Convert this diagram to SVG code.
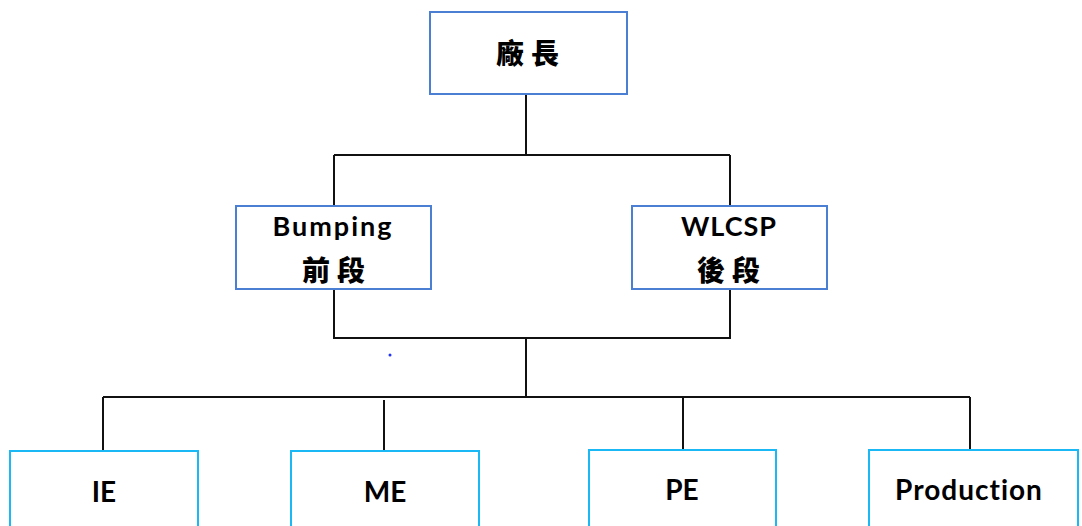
<svg xmlns="http://www.w3.org/2000/svg" width="1082" height="526" viewBox="0 0 1082 526">
<style>
.top{fill:#fff;stroke:#4a7fd4;stroke-width:2}
.bot{fill:#fff;stroke:#1ab8f5;stroke-width:2}
.c{fill:none;stroke:#111;stroke-width:2}
.t{font-family:Lato,"Liberation Sans","Noto Sans CJK TC",sans-serif;font-weight:bold;fill:#000;text-anchor:middle}
.cjk{font-family:"Noto Sans CJK TC","Noto Sans CJK SC",sans-serif;font-weight:900;fill:#000;text-anchor:middle}
</style>
<rect width="1082" height="526" fill="#fff"/>
<g id="connectors">
<path class="c" d="M526 94V155M334 155H730M334 155V206M730 155V206"/>
<path class="c" d="M334 289V338H730V289M526 338V397M103 397H970M103 397V451M384 400V451M683 397V450M970 397V450"/>
</g>
<circle cx="390" cy="355" r="1.5" fill="#2233ff"/>
<g id="n-director"><rect class="top" x="430" y="12" width="197" height="82"/><text class="cjk" x="531" y="64" font-size="28" letter-spacing="7">廠長</text></g>
<g id="n-bumping"><rect class="top" x="236" y="206" width="195" height="83"/><text class="t" x="333" y="236" font-size="27" letter-spacing="2">Bumping</text><text class="cjk" x="337" y="281" font-size="28" letter-spacing="7">前段</text></g>
<g id="n-wlcsp"><rect class="top" x="632" y="206" width="195" height="83"/><text class="t" x="729" y="236" font-size="27" letter-spacing="1">WLCSP</text><text class="cjk" x="732" y="281" font-size="28" letter-spacing="7">後段</text></g>
<g id="n-ie"><rect class="bot" x="10" y="451" width="188" height="90"/><text class="t" x="104" y="502" font-size="28">IE</text></g>
<g id="n-me"><rect class="bot" x="291" y="451" width="188" height="90"/><text class="t" x="385" y="502" font-size="28">ME</text></g>
<g id="n-pe"><rect class="bot" x="589" y="450" width="187" height="90"/><text class="t" x="682" y="500" font-size="28">PE</text></g>
<g id="n-production"><rect class="bot" x="869" y="450" width="209" height="90"/><text class="t" x="969" y="500" font-size="28" letter-spacing="1">Production</text></g>
</svg>
